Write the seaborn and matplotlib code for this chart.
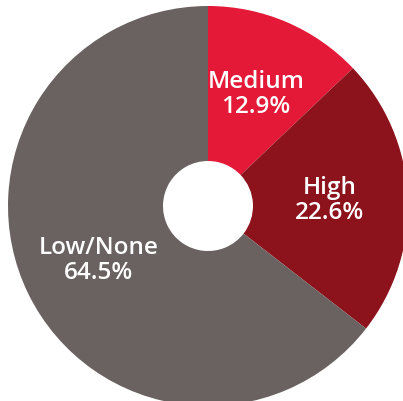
import matplotlib
matplotlib.use("Agg")
import matplotlib.pyplot as plt
import numpy as np
import seaborn as sns

sns.set_theme(style="white")
plt.rcParams["font.family"] = ["Open Sans", "DejaVu Sans"]

# Share of respondents by risk level
categories = ["Medium", "High", "Low/None"]
shares = [12.9, 22.6, 64.5]
palette = sns.color_palette(["#E31937", "#8C131C", "#6A6260"])

fig = plt.figure(figsize=(4.03, 4.02), dpi=100)
ax = fig.add_axes([0, 0, 1, 1])

wedges, _ = ax.pie(
    shares,
    colors=palette,
    startangle=90,
    counterclock=False,
    radius=1.0,
    wedgeprops=dict(width=0.775, linewidth=0),
)

# Labels sit inside each ring segment, at its mid-angle
for w, cat, val in zip(wedges, categories, shares):
    mid = np.deg2rad((w.theta1 + w.theta2) / 2)
    r = 0.61
    ax.text(
        r * np.cos(mid), r * np.sin(mid),
        f"{cat}\n{val:.1f}%",
        ha="center", va="center",
        color="white", fontsize=17.5, fontweight="semibold",
        linespacing=1.05,
    )

ax.set_aspect("auto")
ax.set_xlim(-1.04, 0.975)
ax.set_ylim(-0.975, 1.035)
ax.axis("off")

fig.savefig("out.png", dpi=100, facecolor="white")
